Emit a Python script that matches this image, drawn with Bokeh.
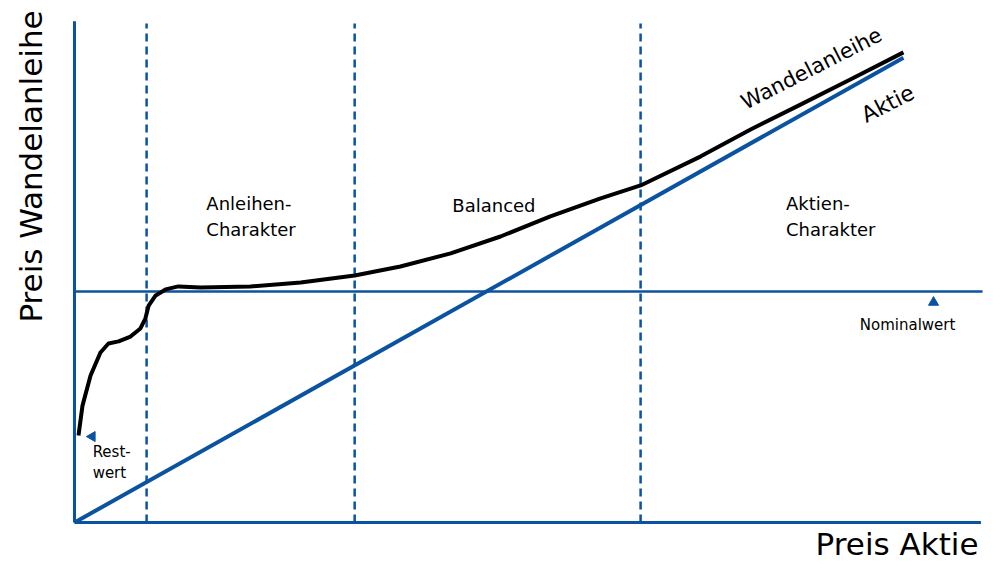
from bokeh.plotting import figure
from bokeh.models import Range1d, Label
from bokeh.embed import file_html
from bokeh.resources import INLINE
import math

# ---- data (nominal value = 100) ----
aktie_x = [0, 201.2]
aktie_y = [0, 201.2]

wandel_x = [0.97, 1.94, 3.9, 6.3, 8.25, 10.7, 13.6, 16.0, 17.2, 18.0, 19.7, 22.1, 25.2, 30.6, 42.7,
            54.9, 68.0, 79.1, 91.3, 103.4, 115.5, 127.7, 137.4, 151.9, 164.1, 176.2, 188.3, 201.2]
wandel_y = [37.7, 50.6, 63.6, 73.6, 77.5, 78.4, 80.5, 84.0, 88.3, 93.9, 98.3, 100.9, 102.2, 101.7, 102.2,
            103.9, 106.9, 110.8, 116.5, 123.8, 132.5, 140.3, 145.9, 158.4, 170.1, 180.9, 191.8, 203.5]

nominal = 100
zone_bounds = [17.5, 68.0, 137.4]
zone_labels = ["Anleihen-\nCharakter", "Balanced", "Aktien-\nCharakter"]
x_max = 220
y_max = 217

BLUE = "#0b52a0"
FONT = "DejaVu Sans"

p = figure(width=984, height=564, output_backend="svg", toolbar_location=None,
           x_range=Range1d(-17.96, 220.87), y_range=Range1d(-18.18, 225.97),
           min_border=0, outline_line_color=None)
p.axis.visible = False
p.grid.visible = False

# axes
p.line([0, 0], [0, y_max], line_color=BLUE, line_width=3)
p.line([0, x_max], [0, 0], line_color=BLUE, line_width=3)
# nominal line
p.line([0, 220.4], [nominal, nominal], line_color=BLUE, line_width=2.5)
# zone dividers
for b in zone_bounds:
    p.line([b, b], [0, 216], line_color=BLUE, line_width=2.5, line_dash="8 5")

# Aktie line
p.line(aktie_x, aktie_y, line_color=BLUE, line_width=4)
# Wandelanleihe curve
p.line(wandel_x, wandel_y, line_color="black", line_width=4, line_join="round")

# markers
p.scatter([208.5], [95.3], marker="triangle", size=10, fill_color=BLUE, line_color=BLUE)
p.scatter([4.3], [37.2], marker="triangle", size=10, angle=math.pi / 2,
          fill_color=BLUE, line_color=BLUE)

def lab(x, y, text, size, align="left", baseline="middle", angle=0, xu="data", yu="data"):
    p.add_layout(Label(x=x, y=y, text=text, text_font=FONT, text_font_size=size,
                       text_align=align, text_baseline=baseline, angle=angle,
                       x_units=xu, y_units=yu, text_color="black", text_line_height=1.2))

# zone labels
lab(32.0, 132.5, zone_labels[0], "18px")
lab(101.8, 137.2, zone_labels[1], "18px", align="center")
lab(172.7, 132.5, zone_labels[2], "18px")

# line labels
ang = math.radians(27)
lab(178.9, 196.5, "Wandelanleihe", "21px", align="center", angle=ang)
lab(197.4, 181.3, "Aktie", "22px", align="center", angle=ang)

# nominal / rest labels
lab(202.2, 85.5, "Nominalwert", "15px", align="center")
lab(4.4, 26.0, "Rest-\nwert", "15px")

# axis titles
lab(30, 398, "Preis Wandelanleihe", "31px", align="center", angle=math.pi / 2,
    xu="screen", yu="screen")
lab(978, 3, "Preis Aktie", "31px", align="right", baseline="bottom", xu="screen", yu="screen")

open("out.html", "w").write(file_html(p, INLINE))
